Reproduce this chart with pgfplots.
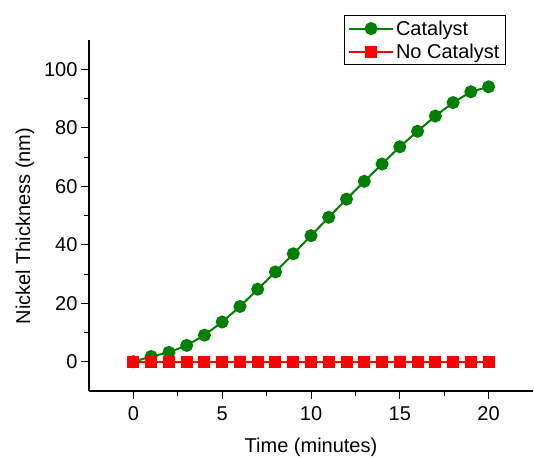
\documentclass[border=0pt]{standalone}
\usepackage{fontspec}
\setmainfont{Liberation Sans}
\usepackage{pgfplots}
\pgfplotsset{compat=1.18}
\definecolor{catgreen}{RGB}{0,128,0}
\definecolor{nored}{RGB}{255,0,0}
\begin{document}
\begin{tikzpicture}[x=1pt,y=1pt]
\useasboundingbox (-89,-68) rectangle (445,391);
\begin{axis}[
  at={(0,0)}, anchor=south west,
  scale only axis, width=444pt, height=351pt,
  xmin=-2.5, xmax=22.5, ymin=-10, ymax=110,
  axis lines=left,
  axis line style={-, line width=1.1pt},
  xtick={0,5,...,20}, ytick={0,20,...,100},
  minor x tick num=1, minor y tick num=1,
  tick align=outside,
  major tick length=8pt, minor tick length=5pt,
  tick style={black, line width=1pt},
  /pgf/number format/assume math mode=true,
  tick label style={font=\fontsize{20}{22}\selectfont},
  xticklabel style={yshift=-4pt},
  label style={font=\fontsize{20}{22}\selectfont},
  xlabel={Time (minutes)},
  ylabel={Nickel Thickness (nm)},
  xlabel style={at={(axis description cs:0.5,-0.16)}, anchor=center},
  ylabel style={at={(axis description cs:-0.144,0.47)}, anchor=center},
  legend style={at={(axis description cs:0.939,1.071)}, anchor=north east,
    draw=black, line width=1pt, font=\fontsize{20}{22}\selectfont,
    inner xsep=4pt, inner ysep=3pt, row sep=3pt},
  legend cell align=left,
  legend image code/.code={\draw[line width=2pt,mark repeat=2,mark phase=2] plot coordinates {(0pt,0pt)(22pt,0pt)(44pt,0pt)};},
]
\addplot[catgreen, line width=2pt, mark=*, mark size=5.5pt] coordinates {
  (0,0) (1,1.8) (2,3.2) (3,5.6) (4,9.1) (5,13.6) (6,18.9) (7,24.8)
  (8,30.7) (9,36.9) (10,43.1) (11,49.4) (12,55.6) (13,61.7) (14,67.6)
  (15,73.5) (16,78.8) (17,84.0) (18,88.6) (19,92.3) (20,94.0)
};
\addlegendentry{Catalyst}
\addplot[nored, line width=2pt, mark=square*, mark size=5pt] coordinates {
  (0,0) (1,0) (2,0) (3,0) (4,0) (5,0) (6,0) (7,0) (8,0) (9,0) (10,0)
  (11,0) (12,0) (13,0) (14,0) (15,0) (16,0) (17,0) (18,0) (19,0) (20,0)
};
\addlegendentry{No Catalyst}
\end{axis}
\end{tikzpicture}
\end{document}
